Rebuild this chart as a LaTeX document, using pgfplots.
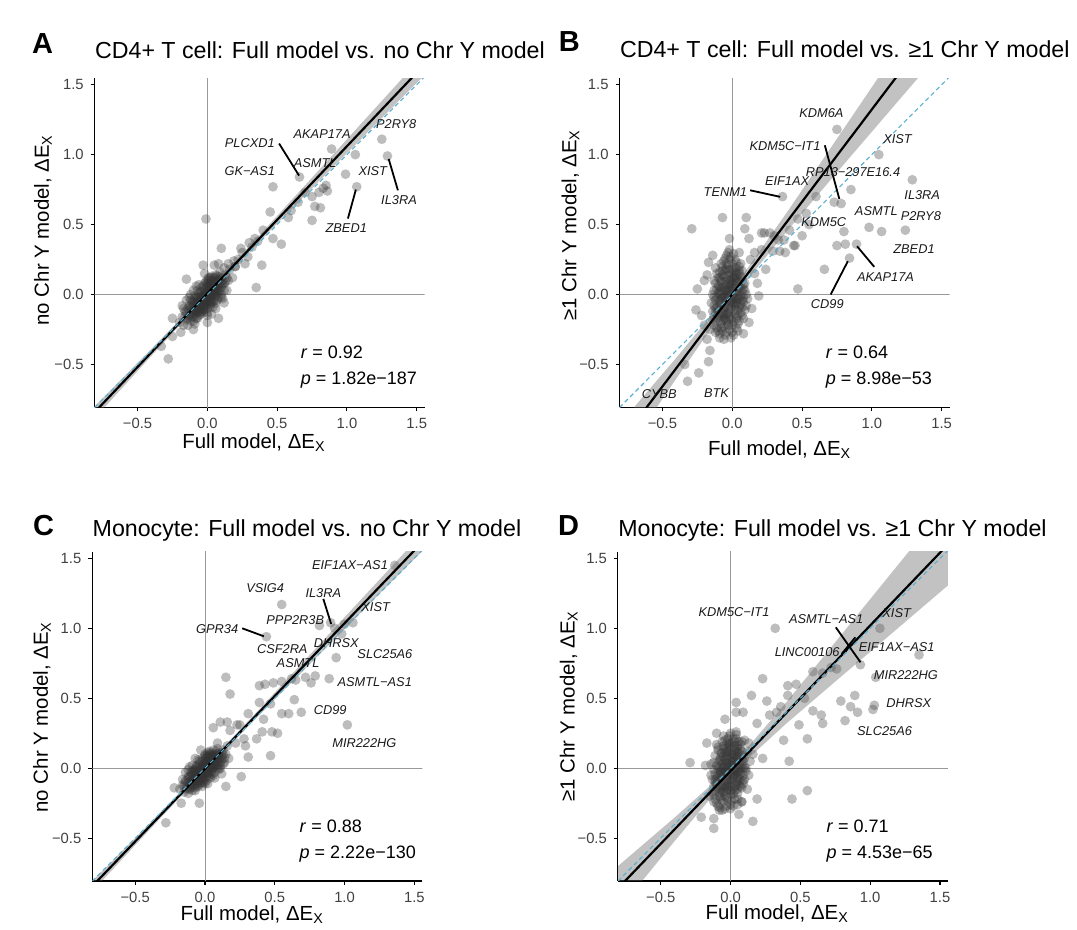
\documentclass[border=0pt]{standalone}
\usepackage{fontspec}
\setmainfont{Liberation Sans}
\usepackage{pgfplots}
\usepackage{pgfplotstable}
\pgfplotsset{compat=1.18}
\definecolor{idblue}{HTML}{5AAED0}

% CD4+ T cell, full vs no Chr Y
\pgfplotstableread[row sep=\\]{
x y\\
1.25 1.11\\ 1.29 0.99\\ 1.06 1.00\\ 0.99 0.86\\ 1.07 0.77\\ 0.89 1.04\\ 0.66 0.84\\ 0.47 0.77\\
0.75 0.70\\ 0.77 0.63\\ 0.81 0.62\\ 0.75 0.53\\ 0.83 0.76\\ 0.85 0.78\\ 0.80 0.73\\ 0.86 0.74\\
0.45 0.59\\ 0.40 0.46\\ 0.34 0.40\\ 0.47 0.40\\ 0.53 0.36\\ 0.24 0.33\\ 0.10 0.33\\ 0.29 0.27\\
0.39 0.21\\ 0.35 0.05\\ -0.01 0.54\\ -0.03 0.21\\ 0.05 0.21\\ 0.20 0.20\\ 0.27 0.22\\ 0.19 0.24\\
0.30 0.37\\ 0.25 0.30\\ -0.28 -0.46\\ -0.33 -0.37\\ -0.25 -0.17\\ -0.25 -0.30\\ -0.18 -0.08\\ -0.10 -0.25\\
0.00 -0.20\\ 0.08 -0.17\\ -0.19 -0.27\\ -0.15 0.11\\ 0.12 0.19\\ 0.15 0.22\\ 0.22 0.25\\ 0.60 0.60\\
0.65 0.66\\ 0.58 0.55\\ 0.70 0.73\\ 0.36 0.38\\ 0.32 0.34\\
-0.20 -0.20\\ -0.18 -0.16\\ -0.17 -0.22\\ -0.16 -0.12\\ -0.15 -0.18\\ -0.14 -0.10\\ -0.14 -0.22\\ -0.13 -0.15\\
-0.12 -0.08\\ -0.12 -0.19\\ -0.11 -0.12\\ -0.10 -0.05\\ -0.10 -0.16\\ -0.09 -0.10\\ -0.09 -0.21\\ -0.08 -0.02\\
-0.08 -0.13\\ -0.07 -0.07\\ -0.07 -0.17\\ -0.06 0.01\\ -0.06 -0.10\\ -0.05 -0.04\\ -0.05 -0.14\\ -0.04 0.05\\
-0.04 -0.07\\ -0.03 -0.01\\ -0.03 -0.11\\ -0.02 0.08\\ -0.02 -0.04\\ -0.01 0.02\\ -0.01 -0.08\\ 0.00 0.11\\
0.00 -0.02\\ 0.00 -0.13\\ 0.01 0.05\\ 0.01 -0.05\\ 0.02 0.00\\ 0.02 0.12\\ 0.03 0.07\\ 0.03 -0.03\\
0.04 0.02\\ 0.04 -0.09\\ 0.05 0.10\\ 0.05 0.04\\ 0.06 -0.01\\ 0.06 0.14\\ 0.07 0.06\\ 0.08 0.02\\
0.08 0.10\\ 0.09 0.16\\ 0.10 0.05\\ 0.10 0.12\\ 0.11 -0.03\\ 0.12 0.08\\ 0.13 0.14\\ 0.14 0.03\\
0.15 0.10\\ 0.16 0.18\\ 0.18 0.12\\ 0.20 0.20\\ -0.12 0.00\\ -0.08 0.06\\ 0.06 -0.10\\ 0.12 -0.06\\
-0.02 0.15\\ 0.03 -0.14\\ -0.15 -0.04\\ 0.08 0.22\\ -0.05 -0.06\\ -0.03 -0.05\\ -0.01 -0.03\\ 0.01 -0.01\\
0.03 0.01\\ 0.05 0.02\\ -0.04 -0.02\\ -0.02 0.00\\ 0.00 0.02\\ 0.02 0.04\\ 0.04 0.06\\ -0.06 -0.05\\
-0.07 -0.03\\ -0.03 -0.08\\ 0.01 0.08\\ 0.04 0.09\\ -0.09 -0.06\\ -0.11 -0.09\\ 0.07 0.03\\ 0.09 0.08\\
-0.11 -0.13\\ -0.10 -0.11\\ -0.09 -0.14\\ -0.08 -0.09\\ -0.08 -0.11\\ -0.07 -0.12\\ -0.07 -0.05\\ -0.06 -0.08\\
-0.06 -0.13\\ -0.05 -0.09\\ -0.05 -0.01\\ -0.04 -0.10\\ -0.04 -0.04\\ -0.03 -0.06\\ -0.03 -0.02\\ -0.02 -0.09\\
-0.02 -0.06\\ -0.02 0.03\\ -0.01 -0.05\\ -0.01 0.00\\ -0.01 0.05\\ 0.00 -0.07\\ 0.00 -0.04\\ 0.00 0.00\\
0.00 0.06\\ 0.01 -0.02\\ 0.01 0.02\\ 0.01 0.10\\ 0.02 -0.07\\ 0.02 -0.02\\ 0.02 0.07\\ 0.03 0.04\\
0.03 -0.06\\ 0.04 0.00\\ 0.04 0.04\\ 0.05 -0.04\\ 0.05 0.07\\ 0.06 0.03\\ 0.06 0.08\\ 0.07 0.00\\
0.07 0.10\\ 0.08 0.05\\ 0.09 0.03\\ 0.09 0.11\\ 0.10 0.08\\ -0.12 -0.04\\ -0.10 -0.08\\ -0.13 -0.11\\
-0.09 -0.03\\ 0.11 0.10\\ -0.04 0.02\\ 0.06 0.05\\ -0.06 -0.02\\ 0.03 0.10\\ -0.08 -0.06\\ 0.02 0.02\\
-0.02 -0.02\\ 0.00 -0.10\\ 0.05 0.00\\ -0.05 -0.08\\
-0.16 -0.16\\ -0.15 -0.13\\ -0.14 -0.17\\ -0.13 -0.08\\ -0.12 -0.14\\ -0.11 -0.05\\ -0.10 -0.19\\ -0.09 -0.01\\
-0.08 -0.17\\ -0.07 0.03\\ -0.06 -0.15\\ -0.05 0.02\\ -0.04 -0.12\\ -0.03 0.06\\ -0.02 -0.11\\ -0.01 0.09\\
0.00 -0.15\\ 0.01 0.12\\ 0.02 -0.09\\ 0.03 0.13\\ 0.04 -0.05\\ 0.05 0.12\\ 0.06 -0.06\\ 0.07 0.13\\
0.08 -0.02\\ 0.09 0.13\\ 0.10 0.00\\ 0.11 0.07\\ 0.12 0.03\\ 0.13 0.09\\ -0.13 -0.02\\ -0.10 0.03\\
-0.06 0.07\\ 0.07 -0.04\\ 0.10 -0.02\\ -0.17 -0.10\\ 0.14 0.12\\ -0.03 -0.13\\ 0.04 0.12\\ -0.12 -0.16\\
0.00 0.08\\ -0.04 -0.03\\ 0.02 -0.05\\ -0.07 -0.10\\ 0.06 0.02\\ -0.09 -0.12\\ 0.08 0.07\\ -0.01 -0.06\\
0.03 0.00\\ -0.05 -0.11\\
}\dataA

% CD4+ T cell, full vs >=1 Chr Y
\pgfplotstableread[row sep=\\]{
x y\\
0.75 1.18\\ 1.05 1.00\\ 1.29 0.82\\ 0.85 0.75\\ 0.36 0.70\\ 0.73 0.66\\ 0.78 0.65\\ 0.60 0.70\\
0.98 0.48\\ 1.07 0.45\\ 1.24 0.46\\ 0.80 0.45\\ 0.75 0.35\\ 0.81 0.36\\ 0.89 0.36\\ 0.84 0.26\\
0.66 0.18\\ 0.47 0.04\\ 0.44 0.35\\ -0.29 0.47\\ -0.07 0.55\\ 0.10 0.55\\ 0.09 0.47\\ 0.12 0.40\\
-0.02 0.40\\ 0.23 0.44\\ 0.33 0.39\\ 0.45 0.35\\ 0.24 0.18\\ 0.21 0.32\\ 0.34 0.31\\ 0.29 0.31\\
0.19 -0.01\\ -0.18 0.14\\ -0.25 0.04\\ -0.26 -0.11\\ -0.18 -0.32\\ -0.16 -0.40\\ -0.17 -0.48\\ -0.34 -0.50\\
-0.24 -0.56\\ -0.32 -0.62\\ -0.20 -0.22\\ -0.12 -0.27\\ 0.30 0.42\\ 0.38 0.30\\ 0.55 0.50\\ 0.50 0.42\\
0.21 0.44\\ 0.27 0.44\\ 0.37 0.39\\ 0.41 0.46\\ 0.53 0.58\\ 0.47 0.54\\
-0.17 0.23\\ -0.14 0.28\\ 0.13 0.25\\ 0.16 0.15\\ 0.18 0.08\\ 0.14 -0.10\\ 0.12 -0.20\\ -0.16 -0.25\\
0.05 0.30\\ 0.08 -0.28\\ -0.22 -0.15\\ 0.16 0.30\\ -0.20 0.10\\
-0.06 -0.32\\ -0.01 -0.31\\ -0.09 -0.28\\ -0.04 -0.27\\ 0.01 -0.29\\ -0.11 -0.24\\ -0.06 -0.23\\ -0.02 -0.25\\
0.03 -0.24\\ -0.12 -0.20\\ -0.08 -0.19\\ -0.03 -0.21\\ 0.01 -0.20\\ 0.05 -0.19\\ -0.13 -0.16\\ -0.09 -0.15\\
-0.05 -0.17\\ 0.00 -0.16\\ 0.04 -0.15\\ 0.08 -0.17\\ -0.14 -0.12\\ -0.10 -0.11\\ -0.06 -0.13\\ -0.02 -0.12\\
0.02 -0.11\\ 0.06 -0.13\\ -0.13 -0.08\\ -0.09 -0.07\\ -0.05 -0.09\\ -0.01 -0.08\\ 0.03 -0.07\\ 0.07 -0.09\\
0.10 -0.08\\ -0.12 -0.04\\ -0.08 -0.03\\ -0.04 -0.05\\ 0.00 -0.04\\ 0.04 -0.03\\ 0.08 -0.05\\ -0.14 0.00\\
-0.10 0.01\\ -0.06 -0.01\\ -0.02 0.00\\ 0.02 0.01\\ 0.06 -0.01\\ 0.10 0.00\\ -0.11 0.04\\ -0.07 0.05\\
-0.03 0.03\\ 0.01 0.04\\ 0.05 0.05\\ 0.09 0.03\\ -0.12 0.08\\ -0.08 0.09\\ -0.04 0.07\\ 0.00 0.08\\
0.04 0.09\\ 0.08 0.07\\ -0.10 0.12\\ -0.06 0.13\\ -0.02 0.11\\ 0.02 0.12\\ 0.06 0.13\\ -0.09 0.16\\
-0.05 0.17\\ -0.01 0.15\\ 0.03 0.16\\ 0.07 0.17\\ -0.07 0.20\\ -0.03 0.21\\ 0.01 0.19\\ 0.05 0.20\\
-0.06 0.24\\ -0.02 0.25\\ 0.03 0.23\\ -0.04 0.28\\ 0.01 0.29\\ -0.02 0.32\\
-0.05 -0.02\\ -0.03 0.02\\ 0.00 -0.06\\ 0.02 0.06\\ -0.07 -0.10\\ 0.04 -0.01\\ -0.01 0.10\\ -0.04 -0.14\\
0.03 0.14\\ -0.08 0.03\\
-0.07 -0.26\\ -0.03 -0.22\\ -0.08 -0.21\\ -0.01 -0.18\\ -0.06 -0.18\\ -0.10 -0.17\\ -0.03 -0.14\\ -0.08 -0.13\\
0.02 -0.14\\ -0.11 -0.09\\ -0.06 -0.10\\ -0.01 -0.10\\ 0.04 -0.11\\ -0.09 -0.05\\ -0.05 -0.06\\ 0.01 -0.06\\
0.06 -0.07\\ -0.11 -0.02\\ -0.07 -0.02\\ -0.03 -0.01\\ 0.01 -0.02\\ 0.05 -0.03\\ 0.08 -0.02\\ -0.09 0.02\\
-0.05 0.03\\ -0.01 0.02\\ 0.03 0.02\\ 0.07 0.02\\ -0.10 0.06\\ -0.06 0.06\\ -0.02 0.05\\ 0.02 0.08\\
0.06 0.09\\ -0.08 0.10\\ -0.04 0.11\\ 0.00 0.12\\ 0.04 0.11\\ -0.07 0.14\\ -0.03 0.14\\ 0.01 0.13\\
0.05 0.15\\ -0.05 0.18\\ -0.01 0.18\\ 0.03 0.19\\ -0.04 0.22\\ 0.00 0.22\\ -0.08 -0.24\\ -0.04 -0.19\\
0.00 -0.22\\ -0.12 -0.13\\ -0.02 -0.16\\ 0.03 -0.05\\ -0.04 0.00\\ 0.00 0.00\\ 0.02 -0.08\\ -0.08 0.00\\
-0.02 0.08\\ -0.06 -0.15\\ 0.06 0.05\\ -0.03 -0.03\\
-0.13 -0.22\\ -0.10 -0.26\\ -0.05 -0.29\\ 0.00 -0.27\\ 0.04 -0.21\\ -0.14 -0.18\\ -0.11 -0.14\\ -0.07 -0.16\\
0.03 -0.17\\ 0.07 -0.15\\ -0.15 -0.06\\ -0.12 -0.10\\ -0.08 -0.08\\ -0.03 -0.10\\ 0.05 -0.09\\ 0.09 -0.11\\
-0.13 -0.02\\ -0.09 -0.04\\ -0.05 -0.04\\ -0.01 -0.05\\ 0.02 -0.03\\ 0.07 -0.04\\ 0.11 -0.03\\ -0.13 0.03\\
-0.09 0.05\\ -0.04 0.04\\ 0.00 0.05\\ 0.04 0.03\\ 0.08 0.04\\ -0.13 0.10\\ -0.09 0.12\\ -0.05 0.09\\
-0.01 0.07\\ 0.03 0.10\\ 0.07 0.11\\ -0.11 0.15\\ -0.07 0.17\\ -0.03 0.18\\ 0.01 0.16\\ 0.05 0.17\\
-0.08 0.22\\ -0.05 0.26\\ 0.02 0.25\\ -0.01 0.27\\ -0.03 0.30\\ 0.04 -0.26\\ -0.09 -0.31\\ 0.06 0.22\\
-0.12 0.19\\ 0.09 0.08\\
}\dataB

% Monocyte, full vs no Chr Y
\pgfplotstableread[row sep=\\]{
x y\\
1.36 1.45\\ 0.55 1.17\\ 0.44 0.94\\ 0.82 1.02\\ 0.90 1.04\\ 1.00 1.03\\ 1.06 1.04\\ 0.94 0.79\\
0.79 0.66\\ 0.89 0.64\\ 0.76 0.61\\ 0.15 0.65\\ 0.18 0.53\\ 0.39 0.59\\ 0.43 0.60\\ 0.49 0.61\\
0.55 0.62\\ 0.62 0.64\\ 0.65 0.63\\ 0.72 0.65\\ 0.39 0.47\\ 0.47 0.46\\ 0.64 0.49\\ 0.55 0.39\\
0.60 0.39\\ 0.69 0.40\\ 0.31 0.39\\ 0.42 0.35\\ 0.41 0.26\\ 0.48 0.26\\ 0.52 0.25\\ 0.37 0.21\\
0.47 0.09\\ 0.23 0.31\\ 0.16 0.33\\ 0.11 0.33\\ 0.06 0.29\\ 0.18 0.27\\ 0.25 0.31\\ 0.28 0.21\\
0.22 0.18\\ 0.29 0.16\\ 0.31 0.08\\ 0.26 -0.06\\ 0.15 -0.13\\ -0.28 -0.39\\ -0.17 -0.25\\ -0.04 -0.25\\
-0.22 -0.14\\ 1.02 0.31\\ 0.93 1.00\\ 0.98 0.96\\
-0.18 -0.15\\ -0.16 -0.12\\ -0.15 -0.17\\ -0.14 -0.09\\ -0.13 -0.14\\ -0.12 -0.06\\ -0.12 -0.18\\ -0.11 -0.11\\
-0.10 -0.03\\ -0.10 -0.14\\ -0.09 -0.08\\ -0.08 -0.01\\ -0.08 -0.12\\ -0.07 -0.05\\ -0.07 -0.16\\ -0.06 0.02\\
-0.06 -0.09\\ -0.05 -0.03\\ -0.05 -0.13\\ -0.04 0.05\\ -0.04 -0.06\\ -0.03 0.00\\ -0.03 -0.10\\ -0.02 0.07\\
-0.02 -0.03\\ -0.01 0.03\\ -0.01 -0.07\\ 0.00 0.10\\ 0.00 -0.01\\ 0.00 -0.11\\ 0.01 0.05\\ 0.01 -0.04\\
0.02 0.01\\ 0.02 0.11\\ 0.03 0.07\\ 0.03 -0.02\\ 0.04 0.03\\ 0.04 -0.07\\ 0.05 0.09\\ 0.05 0.05\\
0.06 0.00\\ 0.06 0.13\\ 0.07 0.06\\ 0.08 0.02\\ 0.08 0.10\\ 0.09 0.14\\ 0.10 0.06\\ 0.10 0.11\\
0.11 0.00\\ 0.12 0.08\\ 0.13 0.13\\ 0.14 0.04\\ 0.15 0.10\\ 0.16 0.16\\ 0.17 0.07\\ -0.11 0.01\\
-0.07 0.07\\ 0.07 -0.07\\ 0.12 -0.04\\ -0.03 0.13\\ 0.02 -0.11\\ -0.14 -0.03\\ 0.09 0.18\\ -0.05 -0.05\\
-0.03 -0.04\\ -0.01 -0.02\\ 0.01 0.00\\ 0.03 0.02\\ 0.05 0.03\\ -0.04 -0.01\\ -0.02 0.01\\ 0.00 0.03\\
0.02 0.05\\ 0.04 0.07\\ -0.06 -0.04\\ -0.07 -0.02\\ -0.02 -0.07\\ 0.01 0.08\\ 0.04 0.10\\ -0.09 -0.05\\
-0.10 -0.09\\ 0.07 0.03\\ 0.09 0.07\\ -0.01 0.01\\ 0.01 0.02\\ -0.02 -0.01\\
-0.10 -0.12\\ -0.09 -0.10\\ -0.08 -0.13\\ -0.08 -0.07\\ -0.07 -0.09\\ -0.06 -0.11\\ -0.06 -0.04\\ -0.05 -0.07\\
-0.05 -0.10\\ -0.04 -0.08\\ -0.04 -0.02\\ -0.03 -0.05\\ -0.03 -0.07\\ -0.02 -0.04\\ -0.02 0.02\\ -0.01 -0.05\\
-0.01 0.00\\ 0.00 -0.03\\ 0.00 0.01\\ 0.00 0.05\\ 0.01 -0.06\\ 0.01 0.03\\ 0.02 -0.01\\ 0.02 0.03\\
0.02 0.08\\ 0.03 0.00\\ 0.03 0.05\\ 0.04 -0.03\\ 0.04 0.01\\ 0.05 0.06\\ 0.05 -0.01\\ 0.06 0.04\\
0.06 0.08\\ 0.07 0.01\\ 0.07 0.09\\ 0.08 0.05\\ 0.09 0.02\\ 0.09 0.10\\ 0.10 0.07\\ 0.11 0.04\\
-0.11 -0.06\\ -0.09 -0.02\\ -0.12 -0.10\\ 0.12 0.11\\ -0.05 0.01\\ 0.08 0.08\\ -0.07 -0.01\\ 0.04 0.09\\
-0.08 -0.04\\ 0.01 0.01\\ -0.01 -0.01\\ 0.03 0.03\\ -0.03 -0.03\\ 0.05 0.02\\ -0.06 -0.07\\ 0.06 0.01\\
-0.04 -0.05\\ 0.02 -0.04\\ 0.00 -0.08\\ 0.07 0.05\\
-0.15 -0.13\\ -0.14 -0.10\\ -0.13 -0.15\\ -0.12 -0.07\\ -0.11 -0.12\\ -0.10 -0.05\\ -0.09 -0.16\\ -0.08 -0.02\\
-0.07 -0.14\\ -0.06 0.01\\ -0.05 -0.12\\ -0.04 0.03\\ -0.03 -0.11\\ -0.02 0.05\\ -0.01 -0.10\\ 0.00 0.07\\
0.01 -0.09\\ 0.02 0.09\\ 0.03 -0.06\\ 0.04 0.11\\ 0.05 -0.04\\ 0.06 0.10\\ 0.07 -0.03\\ 0.08 0.12\\
0.09 0.00\\ 0.10 0.09\\ 0.11 0.02\\ 0.12 0.06\\ 0.13 0.10\\ 0.14 0.07\\ -0.12 -0.01\\ -0.09 0.02\\
-0.05 0.06\\ 0.06 -0.05\\ 0.10 -0.01\\ -0.16 -0.08\\ 0.13 0.03\\ -0.02 -0.13\\ 0.03 0.12\\ -0.11 -0.15\\
0.00 0.09\\ -0.04 -0.04\\ 0.02 -0.03\\ -0.07 -0.08\\ 0.05 0.01\\ -0.08 -0.10\\ 0.07 0.07\\ -0.01 -0.04\\
0.03 0.02\\ -0.04 -0.09\\
}\dataC

% Monocyte, full vs >=1 Chr Y
\pgfplotstableread[row sep=\\]{
x y\\
0.32 1.00\\ 1.07 1.00\\ 1.35 0.81\\ 0.93 0.74\\ 0.76 0.71\\ 0.59 0.69\\ 1.04 0.65\\ 0.89 0.52\\
1.03 0.45\\ 1.02 0.42\\ 0.79 0.48\\ 0.86 0.44\\ 0.91 0.40\\ 0.82 0.34\\ 0.23 0.64\\ 0.15 0.52\\
0.04 0.47\\ 0.26 0.48\\ 0.28 0.38\\ 0.09 0.40\\ 0.19 0.32\\ 0.41 0.52\\ 0.47 0.60\\ 0.41 0.59\\
0.53 0.50\\ 0.59 0.41\\ 0.65 0.38\\ 0.66 0.32\\ 0.49 0.31\\ 0.55 0.21\\ 0.38 0.20\\ 0.23 0.07\\
0.42 0.05\\ -0.17 0.18\\ -0.29 0.04\\ -0.18 0.02\\ 0.55 -0.16\\ 0.44 -0.22\\ -0.21 -0.35\\ -0.12 -0.36\\
-0.12 -0.43\\ 0.06 -0.33\\ 0.16 -0.38\\ 0.00 -0.29\\ 0.08 -0.24\\ 0.19 -0.22\\ 0.04 0.26\\ -0.04 0.35\\
0.04 0.40\\ 0.72 0.72\\ 0.66 0.68\\ 0.36 0.44\\ 0.33 0.40\\ 0.13 0.18\\ 0.16 0.10\\ -0.10 0.25\\
0.12 -0.15\\
-0.08 -0.28\\ -0.03 -0.27\\ -0.10 -0.25\\ -0.05 -0.24\\ 0.00 -0.26\\ -0.11 -0.22\\ -0.07 -0.21\\ -0.02 -0.23\\
0.03 -0.22\\ -0.12 -0.19\\ -0.08 -0.18\\ -0.04 -0.20\\ 0.00 -0.19\\ 0.05 -0.18\\ -0.11 -0.16\\ -0.07 -0.15\\
-0.03 -0.17\\ 0.01 -0.16\\ 0.05 -0.15\\ -0.12 -0.13\\ -0.08 -0.12\\ -0.04 -0.14\\ 0.00 -0.13\\ 0.04 -0.12\\
0.08 -0.14\\ -0.11 -0.10\\ -0.07 -0.09\\ -0.03 -0.11\\ 0.01 -0.10\\ 0.05 -0.09\\ 0.09 -0.11\\ -0.10 -0.07\\
-0.06 -0.06\\ -0.02 -0.08\\ 0.02 -0.07\\ 0.06 -0.06\\ 0.10 -0.08\\ -0.11 -0.04\\ -0.07 -0.03\\ -0.03 -0.05\\
0.01 -0.04\\ 0.05 -0.03\\ 0.09 -0.05\\ -0.09 -0.01\\ -0.05 0.00\\ -0.01 -0.02\\ 0.03 -0.01\\ 0.07 0.00\\
0.11 -0.02\\ -0.10 0.02\\ -0.06 0.03\\ -0.02 0.01\\ 0.02 0.02\\ 0.06 0.03\\ 0.10 0.01\\ -0.08 0.05\\
-0.04 0.06\\ 0.00 0.04\\ 0.04 0.05\\ 0.08 0.06\\ -0.07 0.08\\ -0.03 0.09\\ 0.01 0.07\\ 0.05 0.08\\
0.09 0.09\\ -0.06 0.11\\ -0.02 0.12\\ 0.02 0.10\\ 0.06 0.11\\ -0.05 0.14\\ -0.01 0.15\\ 0.03 0.13\\
0.07 0.14\\ -0.03 0.17\\ 0.01 0.18\\ 0.05 0.16\\ -0.04 0.20\\ 0.02 0.21\\ 0.06 0.19\\ -0.01 0.23\\
0.04 0.24\\ 0.12 0.12\\ 0.13 -0.05\\ -0.13 -0.08\\ -0.14 0.03\\ 0.10 0.20\\ -0.09 0.15\\ 0.14 0.05\\
-0.06 -0.30\\ 0.08 -0.24\\ -0.15 -0.20\\
-0.06 -0.23\\ -0.02 -0.21\\ -0.08 -0.20\\ 0.02 -0.18\\ -0.05 -0.17\\ -0.09 -0.14\\ -0.02 -0.15\\ 0.03 -0.13\\
-0.06 -0.12\\ -0.09 -0.09\\ -0.04 -0.09\\ 0.00 -0.08\\ 0.04 -0.10\\ 0.07 -0.08\\ -0.08 -0.05\\ -0.04 -0.06\\
0.00 -0.05\\ 0.03 -0.04\\ 0.07 -0.04\\ -0.07 -0.02\\ -0.03 -0.02\\ 0.01 -0.01\\ 0.05 -0.02\\ 0.09 0.00\\
-0.08 0.01\\ -0.04 0.02\\ 0.00 0.02\\ 0.04 0.02\\ 0.08 0.03\\ -0.06 0.05\\ -0.02 0.05\\ 0.02 0.05\\
0.06 0.05\\ -0.05 0.08\\ -0.01 0.08\\ 0.03 0.09\\ 0.07 0.08\\ -0.04 0.11\\ 0.00 0.11\\ 0.04 0.12\\
-0.03 0.14\\ 0.01 0.15\\ 0.05 0.14\\ -0.01 0.18\\ 0.03 0.19\\ -0.10 -0.11\\ -0.01 -0.12\\ 0.06 -0.12\\
-0.06 -0.17\\ 0.01 -0.23\\ -0.05 -0.03\\ 0.02 -0.06\\ -0.02 -0.01\\ 0.02 0.00\\ -0.06 0.00\\ 0.05 0.00\\
-0.02 0.03\\ -0.03 -0.13\\ 0.00 -0.16\\ 0.04 0.07\\
-0.12 -0.24\\ -0.09 -0.27\\ -0.04 -0.29\\ 0.02 -0.27\\ 0.05 -0.22\\ -0.13 -0.17\\ -0.10 -0.13\\ -0.06 -0.14\\
0.03 -0.16\\ 0.07 -0.13\\ -0.14 -0.05\\ -0.11 -0.08\\ -0.07 -0.07\\ -0.02 -0.10\\ 0.05 -0.07\\ 0.09 -0.09\\
-0.12 -0.01\\ -0.08 -0.03\\ -0.04 -0.03\\ 0.00 -0.03\\ 0.03 -0.02\\ 0.07 -0.02\\ 0.11 0.00\\ -0.12 0.04\\
-0.08 0.06\\ -0.03 0.04\\ 0.01 0.05\\ 0.05 0.04\\ 0.09 0.05\\ -0.11 0.09\\ -0.07 0.11\\ -0.03 0.11\\
0.01 0.10\\ 0.05 0.11\\ 0.08 0.12\\ -0.09 0.13\\ -0.05 0.16\\ -0.01 0.17\\ 0.03 0.16\\ 0.07 0.17\\
-0.06 0.19\\ -0.02 0.21\\ 0.04 0.21\\ 0.00 0.25\\ -0.05 0.23\\ 0.05 -0.26\\ -0.08 -0.30\\ 0.08 0.19\\
-0.10 0.17\\ 0.10 0.07\\
}\dataD

\pgfplotsset{
  panel/.style={
    scale only axis, width=165pt, height=164.6pt, anchor=south west,
    xmin=-0.807, xmax=1.557, ymin=-0.806, ymax=1.547,
    axis x line=bottom, axis y line=left,
    axis line style={-, line width=0.55pt, black},
    xtick={-0.5,0,0.5,1,1.5}, xticklabels={−0.5,0.0,0.5,1.0,1.5},
    ytick={-0.5,0,0.5,1,1.5}, yticklabels={−0.5,0.0,0.5,1.0,1.5},
    tick align=outside, major tick length=2pt,
    tick style={line width=0.55pt, black},
    ticklabel style={font=\fontsize{7.4}{8}\selectfont, text=black!75},
    clip mode=individual,
  },
  zeroline/.style={black!40, line width=0.45pt, forget plot},
  pts/.style={only marks, mark=*, mark size=2.45pt,
    mark options={draw opacity=0, line width=0pt, fill=black!80, fill opacity=0.32}},
  cband/.style={draw=none, fill=black!60, fill opacity=0.4},
  fitline/.style={black, line width=1.1pt},
  idline/.style={idblue, line width=0.55pt, dash pattern=on 2.2pt off 1.6pt},
}
\tikzset{
  gene/.style={font=\fontsize{6.4}{7}\selectfont\itshape, inner sep=0pt, text=black!90},
  lead/.style={black, line width=0.9pt},
  stat/.style={font=\fontsize{9}{10}\selectfont, anchor=base west, inner sep=0pt},
  ttl/.style={font=\fontsize{11.6}{13}\selectfont, anchor=base west, inner sep=0pt},
  tag/.style={font=\fontsize{14.5}{15}\selectfont\bfseries, anchor=base west, inner sep=0pt},
  xl/.style={font=\fontsize{10.2}{12}\selectfont, anchor=base, inner sep=0pt},
  yl/.style={font=\fontsize{10.2}{12}\selectfont, rotate=90, anchor=center, inner sep=0pt},
}

\begin{document}
\begin{tikzpicture}
\useasboundingbox (0,0) rectangle (538.5pt,465pt);

% ---------- A ----------
\begin{axis}[panel, at={(47.35pt,261.35pt)}]
\addplot[zeroline] coordinates {(0,-1) (0,2)};
\addplot[zeroline] coordinates {(-1,0) (2,0)};
\addplot[pts] table {\dataA};
\addplot[cband] coordinates {(-0.85,-0.842) (-0.4,-0.388) (0,0.023) (0.4,0.453) (0.8,0.890) (1.2,1.329) (1.6,1.768)
  (1.6,1.614) (1.2,1.211) (0.8,0.810) (0.4,0.405) (0,-0.007) (-0.4,-0.438) (-0.85,-0.930)} -- cycle;
\addplot[fitline] coordinates {(-0.85,-0.886) (1.6,1.691)};
\addplot[idline] coordinates {(-1,-1) (2,2)};
\draw[lead] (axis cs:0.514,1.079) -- (axis cs:0.657,0.850);
\draw[lead] (axis cs:1.299,0.969) -- (axis cs:1.365,0.745);
\draw[lead] (axis cs:1.064,0.750) -- (axis cs:1.007,0.543);
\node[gene] at (axis cs:0.304,1.079) {PLCXD1};
\node[gene] at (axis cs:0.304,0.879) {GK−AS1};
\node[gene] at (axis cs:0.822,1.150) {AKAP17A};
\node[gene] at (axis cs:0.773,0.940) {ASMTL};
\node[gene] at (axis cs:1.353,1.221) {P2RY8};
\node[gene] at (axis cs:1.185,0.879) {XIST};
\node[gene] at (axis cs:1.373,0.674) {IL3RA};
\node[gene] at (axis cs:0.995,0.474) {ZBED1};
\node[stat] at (axis cs:0.667,-0.457) {\textit{r} = 0.92};
\node[stat] at (axis cs:0.667,-0.643) {\textit{p} = 1.82e−187};
\end{axis}

% ---------- B ----------
\begin{axis}[panel, at={(309.8pt,261.35pt)}]
\addplot[zeroline] coordinates {(0,-1) (0,2)};
\addplot[zeroline] coordinates {(-1,0) (2,0)};
\addplot[pts] table {\dataB};
\addplot[cband] coordinates {(-0.85,-0.977) (-0.4,-0.451) (0,0.033) (0.4,0.599) (0.8,1.187) (1.2,1.778) (1.6,2.370)
  (1.6,1.860) (1.2,1.396) (0.8,0.931) (0.4,0.463) (0,-0.027) (-0.4,-0.599) (-0.85,-1.261)} -- cycle;
\addplot[fitline] coordinates {(-0.85,-1.119) (1.6,2.115)};
\addplot[idline] coordinates {(-1,-1) (2,2)};
\draw[lead] (axis cs:0.663,1.067) -- (axis cs:0.767,0.683);
\draw[lead] (axis cs:0.128,0.745) -- (axis cs:0.344,0.698);
\draw[lead] (axis cs:0.894,0.345) -- (axis cs:1.017,0.198);
\draw[lead] (axis cs:0.828,0.238) -- (axis cs:0.705,0.000);
\node[gene] at (axis cs:0.639,1.298) {KDM6A};
\node[gene] at (axis cs:1.184,1.112) {XIST};
\node[gene] at (axis cs:0.378,1.064) {KDM5C−IT1};
\node[gene] at (axis cs:0.865,0.874) {RP13−297E16.4};
\node[gene] at (axis cs:0.393,0.810) {EIF1AX};
\node[gene] at (axis cs:-0.049,0.733) {TENM1};
\node[gene] at (axis cs:1.361,0.714) {IL3RA};
\node[gene] at (axis cs:1.032,0.595) {ASMTL};
\node[gene] at (axis cs:1.351,0.560) {P2RY8};
\node[gene] at (axis cs:0.656,0.517) {KDM5C};
\node[gene] at (axis cs:1.302,0.326) {ZBED1};
\node[gene] at (axis cs:1.098,0.126) {AKAP17A};
\node[gene] at (axis cs:0.681,-0.071) {CD99};
\node[gene] at (axis cs:-0.523,-0.714) {CYBB};
\node[gene] at (axis cs:-0.113,-0.702) {BTK};
\node[stat] at (axis cs:0.668,-0.457) {\textit{r} = 0.64};
\node[stat] at (axis cs:0.668,-0.643) {\textit{p} = 8.98e−53};
\end{axis}

% ---------- C ----------
\begin{axis}[panel, at={(46.15pt,24.5pt)}]
\addplot[zeroline] coordinates {(0,-1) (0,2)};
\addplot[zeroline] coordinates {(-1,0) (2,0)};
\addplot[pts] table {\dataC};
\addplot[cband] coordinates {(-0.85,-0.850) (-0.4,-0.398) (0,0.011) (0.4,0.433) (0.8,0.863) (1.2,1.294) (1.6,1.725)
  (1.6,1.595) (1.2,1.195) (0.8,0.793) (0.4,0.391) (0,-0.019) (-0.4,-0.443) (-0.85,-0.926)} -- cycle;
\addplot[fitline] coordinates {(-0.85,-0.888) (1.6,1.660)};
\addplot[idline] coordinates {(-1,-1) (2,2)};
\draw[lead] (axis cs:0.848,1.210) -- (axis cs:0.904,1.031);
\draw[lead] (axis cs:0.267,1.000) -- (axis cs:0.422,0.943);
\node[gene] at (axis cs:1.039,1.452) {EIF1AX−AS1};
\node[gene] at (axis cs:0.431,1.286) {VSIG4};
\node[gene] at (axis cs:0.848,1.252) {IL3RA};
\node[gene] at (axis cs:1.223,1.150) {XIST};
\node[gene] at (axis cs:0.647,1.060) {PPP2R3B};
\node[gene] at (axis cs:0.088,0.995) {GPR34};
\node[gene] at (axis cs:0.554,0.852) {CSF2RA};
\node[gene] at (axis cs:0.941,0.895) {DHRSX};
\node[gene] at (axis cs:1.289,0.817) {SLC25A6};
\node[gene] at (axis cs:0.667,0.748) {ASMTL};
\node[gene] at (axis cs:1.216,0.619) {ASMTL−AS1};
\node[gene] at (axis cs:0.897,0.419) {CD99};
\node[gene] at (axis cs:1.142,0.179) {MIR222HG};
\node[stat] at (axis cs:0.676,-0.457) {\textit{r} = 0.88};
\node[stat] at (axis cs:0.676,-0.643) {\textit{p} = 2.22e−130};
\end{axis}

% ---------- D ----------
\begin{axis}[panel, at={(308.95pt,24.5pt)}]
\addplot[zeroline] coordinates {(0,-1) (0,2)};
\addplot[zeroline] coordinates {(-1,0) (2,0)};
\addplot[pts] table {\dataD};
\addplot[cband] coordinates {(-0.85,-0.737) (-0.4,-0.352) (0,0.005) (0.4,0.472) (0.8,0.962) (1.2,1.454) (1.6,1.945)
  (1.6,1.343) (1.2,1.002) (0.8,0.662) (0.4,0.320) (0,-0.045) (-0.4,-0.520) (-0.85,-1.071)} -- cycle;
\addplot[fitline] coordinates {(-0.85,-0.904) (1.6,1.644)};
\addplot[idline] coordinates {(-1,-1) (2,2)};
\draw[lead] (axis cs:0.754,1.007) -- (axis cs:0.931,0.757);
\draw[lead] (axis cs:0.796,0.817) -- (axis cs:0.894,0.936);
\node[gene] at (axis cs:0.025,1.114) {KDM5C−IT1};
\node[gene] at (axis cs:0.685,1.067) {ASMTL−AS1};
\node[gene] at (axis cs:1.190,1.110) {XIST};
\node[gene] at (axis cs:0.549,0.833) {LINC00106};
\node[gene] at (axis cs:1.190,0.864) {EIF1AX−AS1};
\node[gene] at (axis cs:1.256,0.667) {MIR222HG};
\node[gene] at (axis cs:1.276,0.467) {DHRSX};
\node[gene] at (axis cs:1.103,0.264) {SLC25A6};
\node[stat] at (axis cs:0.685,-0.457) {\textit{r} = 0.71};
\node[stat] at (axis cs:0.685,-0.643) {\textit{p} = 4.53e−65};
\end{axis}

% titles and axis labels
\node[tag] at (15.85pt,438.35pt) {A};
\node[ttl] at (47.35pt,435.85pt) {CD4+ T cell: Full model vs. no Chr Y model};
\node[tag] at (279.2pt,439.15pt) {B};
\node[ttl] at (309.8pt,436.3pt) {CD4+ T cell: Full model vs. ≥1 Chr Y model};
\node[tag] at (16.35pt,197pt) {C};
\node[ttl] at (46.15pt,196.65pt) {Monocyte: Full model vs. no Chr Y model};
\node[tag] at (278.85pt,197pt) {D};
\node[ttl] at (308.95pt,196.65pt) {Monocyte: Full model vs. ≥1 Chr Y model};

\node[xl] at (127pt,240.85pt) {Full model, ΔE\textsubscript{X}};
\node[xl] at (389.8pt,237.15pt) {Full model, ΔE\textsubscript{X}};
\node[xl] at (126.1pt,4.5pt) {Full model, ΔE\textsubscript{X}};
\node[xl] at (388.6pt,5pt) {Full model, ΔE\textsubscript{X}};

\node[yl] at (21.5pt,350pt) {no Chr Y model, ΔE\textsubscript{X}};
\node[yl] at (285.2pt,352.5pt) {≥1 Chr Y model, ΔE\textsubscript{X}};
\node[yl] at (21pt,106.5pt) {no Chr Y model, ΔE\textsubscript{X}};
\node[yl] at (284.35pt,112pt) {≥1 Chr Y model, ΔE\textsubscript{X}};
\end{tikzpicture}
\end{document}
